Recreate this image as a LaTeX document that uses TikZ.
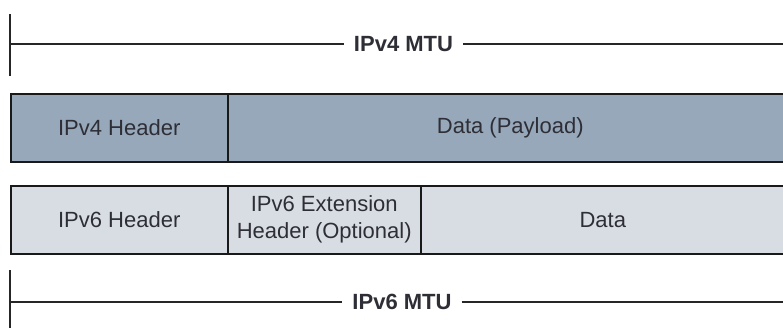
\documentclass[tikz,border=0pt]{standalone}
\usepackage{fontspec}
\setmainfont{Liberation Sans}
\definecolor{vfourfill}{HTML}{97A8BA}
\definecolor{vsixfill}{HTML}{D8DDE4}
\definecolor{inkgray}{HTML}{2E2E36}
\begin{document}
\begin{tikzpicture}[x=1pt,y=-1pt,
  cell/.style={draw=black!90, line width=1.5pt, anchor=north west, inner sep=0pt,
    text=inkgray, align=center, font=\fontsize{22}{27}\selectfont},
  vfour/.style={cell, fill=vfourfill},
  vsix/.style={cell, fill=vsixfill},
  mtulabel/.style={text=inkgray, inner xsep=10pt, inner ysep=0pt,
    font=\fontsize{22}{27}\selectfont\bfseries},
  rule/.style={draw=black!85, line width=1.3pt}]
\useasboundingbox (0,0) rectangle (783,327);
\clip (0,0) rectangle (783,327);

% IPv4 MTU span
\coordinate (t4a) at (10,14);
\coordinate (t4b) at (10,76);
\coordinate (m4l) at (10,44);
\coordinate (m4r) at (800,44);
\node[mtulabel] (m4) at (403.5,44) {IPv4 MTU};
\draw[rule] (t4a) -- (t4b);
\draw[rule] (m4l) -- (m4.west);
\draw[rule] (m4.east) -- (m4r);

% IPv4 packet
\node[vfour, minimum width=217pt, minimum height=68pt] (h4) at (10,93) {IPv4 Header};
\node[vfour, minimum width=565pt, minimum height=68pt] (d4) at (227,93) {Data (Payload)};

% IPv6 packet
\node[vsix, minimum width=217pt, minimum height=68pt] (h6) at (10,185) {IPv6 Header};
\node[vsix, minimum width=193pt, minimum height=68pt] (e6) at (227,185) {IPv6 Extension\\Header (Optional)};
\node[vsix, minimum width=364pt, minimum height=68pt] (d6) at (420,185) {Data};

% IPv6 MTU span
\coordinate (t6a) at (10,270);
\coordinate (t6b) at (10,330);
\coordinate (m6l) at (10,302);
\coordinate (m6r) at (800,302);
\node[mtulabel] (m6) at (402,302) {IPv6 MTU};
\draw[rule] (t6a) -- (t6b);
\draw[rule] (m6l) -- (m6.west);
\draw[rule] (m6.east) -- (m6r);
\end{tikzpicture}
\end{document}
